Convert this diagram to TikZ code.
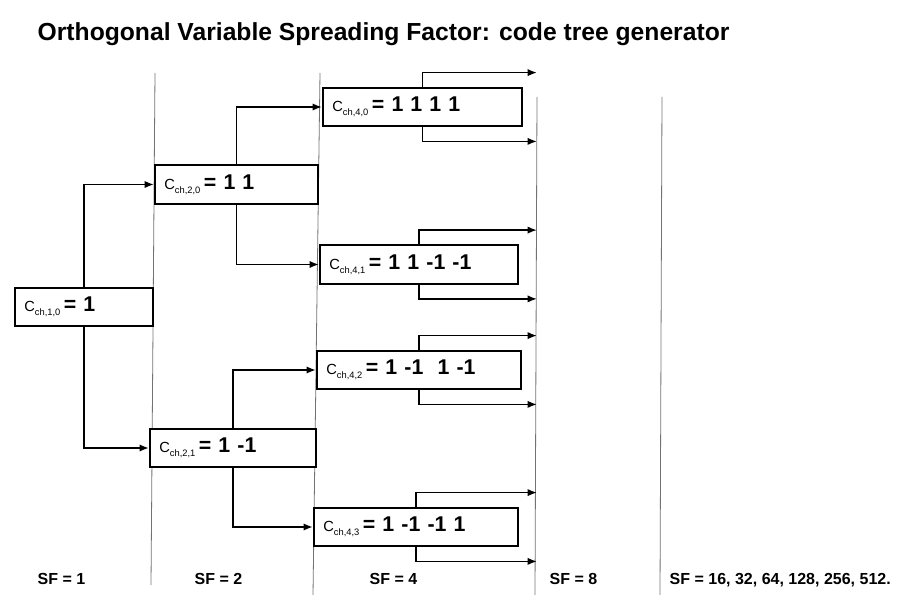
\documentclass[tikz,border=0pt]{standalone}
\usepackage{fontspec}
\setmainfont{Liberation Sans}
\usetikzlibrary{arrows.meta}
\newcommand{\ovsf}[2]{{\mdseries\fontsize{11}{13}\selectfont C\raisebox{-3pt}{\fontsize{7}{8}\selectfont ch,#1}}\,= #2}

\begin{document}
\begin{tikzpicture}[x=0.75pt,y=-0.75pt,
      cbox/.style={draw, fill=white, line width=1.6pt, minimum height=29pt,
                   text width=#1, align=left, inner xsep=7pt, inner ysep=0pt,
                   font=\fontsize{16}{18}\selectfont\bfseries},
      link/.style={line width=1.3pt, -{Latex[length=7pt,width=5.5pt]}},
      sep/.style={draw=black!55, line width=0.6pt},
      sf/.style={anchor=base west, font=\fontsize{12}{14}\selectfont\bfseries}]
    \useasboundingbox (0,0) rectangle (918,595);
    \node[anchor=base west, font=\fontsize{18.5}{22}\selectfont\bfseries] (title) at (33,41)
      {Orthogonal Variable Spreading Factor: code tree generator};

    % SF columns
    \draw[sep] (155,73) -- (151,585);
    \draw[sep] (320,73) -- (313,595);
    \draw[sep] (537,97) -- (535,595);
    \draw[sep] (662,97) -- (660,595);
    \coordinate (sf8) at (537,0);

    \node[cbox=89.5pt]  (c10) at (84,307)    {\ovsf{1,0}{1}};
    \node[cbox=108.2pt] (c20) at (236.5,184.5) {\ovsf{2,0}{1 1}};
    \node[cbox=110.5pt] (c21) at (233,448)   {\ovsf{2,1}{1 -1}};
    \node[cbox=135.2pt] (c40) at (422.5,107) {\ovsf{4,0}{1 1 1 1}};
    \node[cbox=134.5pt] (c41) at (419,264.5) {\ovsf{4,1}{1 1 -1 -1}};
    \node[cbox=139pt]   (c42) at (419,370)   {\ovsf{4,2}{1 -1\ \ 1 -1}};
    \node[cbox=139pt]   (c43) at (416,527)   {\ovsf{4,3}{1 -1 -1 1}};

    \draw[link] (c10.north) |- (c20.west);
    \draw[link] (c10.south) |- (c21.west);
    \draw[link] (c20.north) |- (c40.west);
    \draw[link] (c20.south) |- (c41.west);
    \draw[link] (c21.north) |- (c42.west);
    \draw[link] (c21.south) |- (c43.west);
    \foreach \c in {c40,c41,c42,c43}{
      \draw[link] (\c.north) -- ++(0,-14) coordinate (up) -- (up -| sf8);
      \draw[link] (\c.south) -- ++(0,14) coordinate (dn) -- (dn -| sf8);
    }

    \node[sf] (sf1) at (33,584)  {SF = 1};
    \node[sf] (sf2) at (190,584) {SF = 2};
    \node[sf] (sf4) at (365,584) {SF = 4};
    \node[sf] (sf8l) at (545,584) {SF = 8};
    \node[sf] (sfn) at (665,584) {SF = 16, 32, 64, 128, 256, 512.};
  \end{tikzpicture}
\end{document}
